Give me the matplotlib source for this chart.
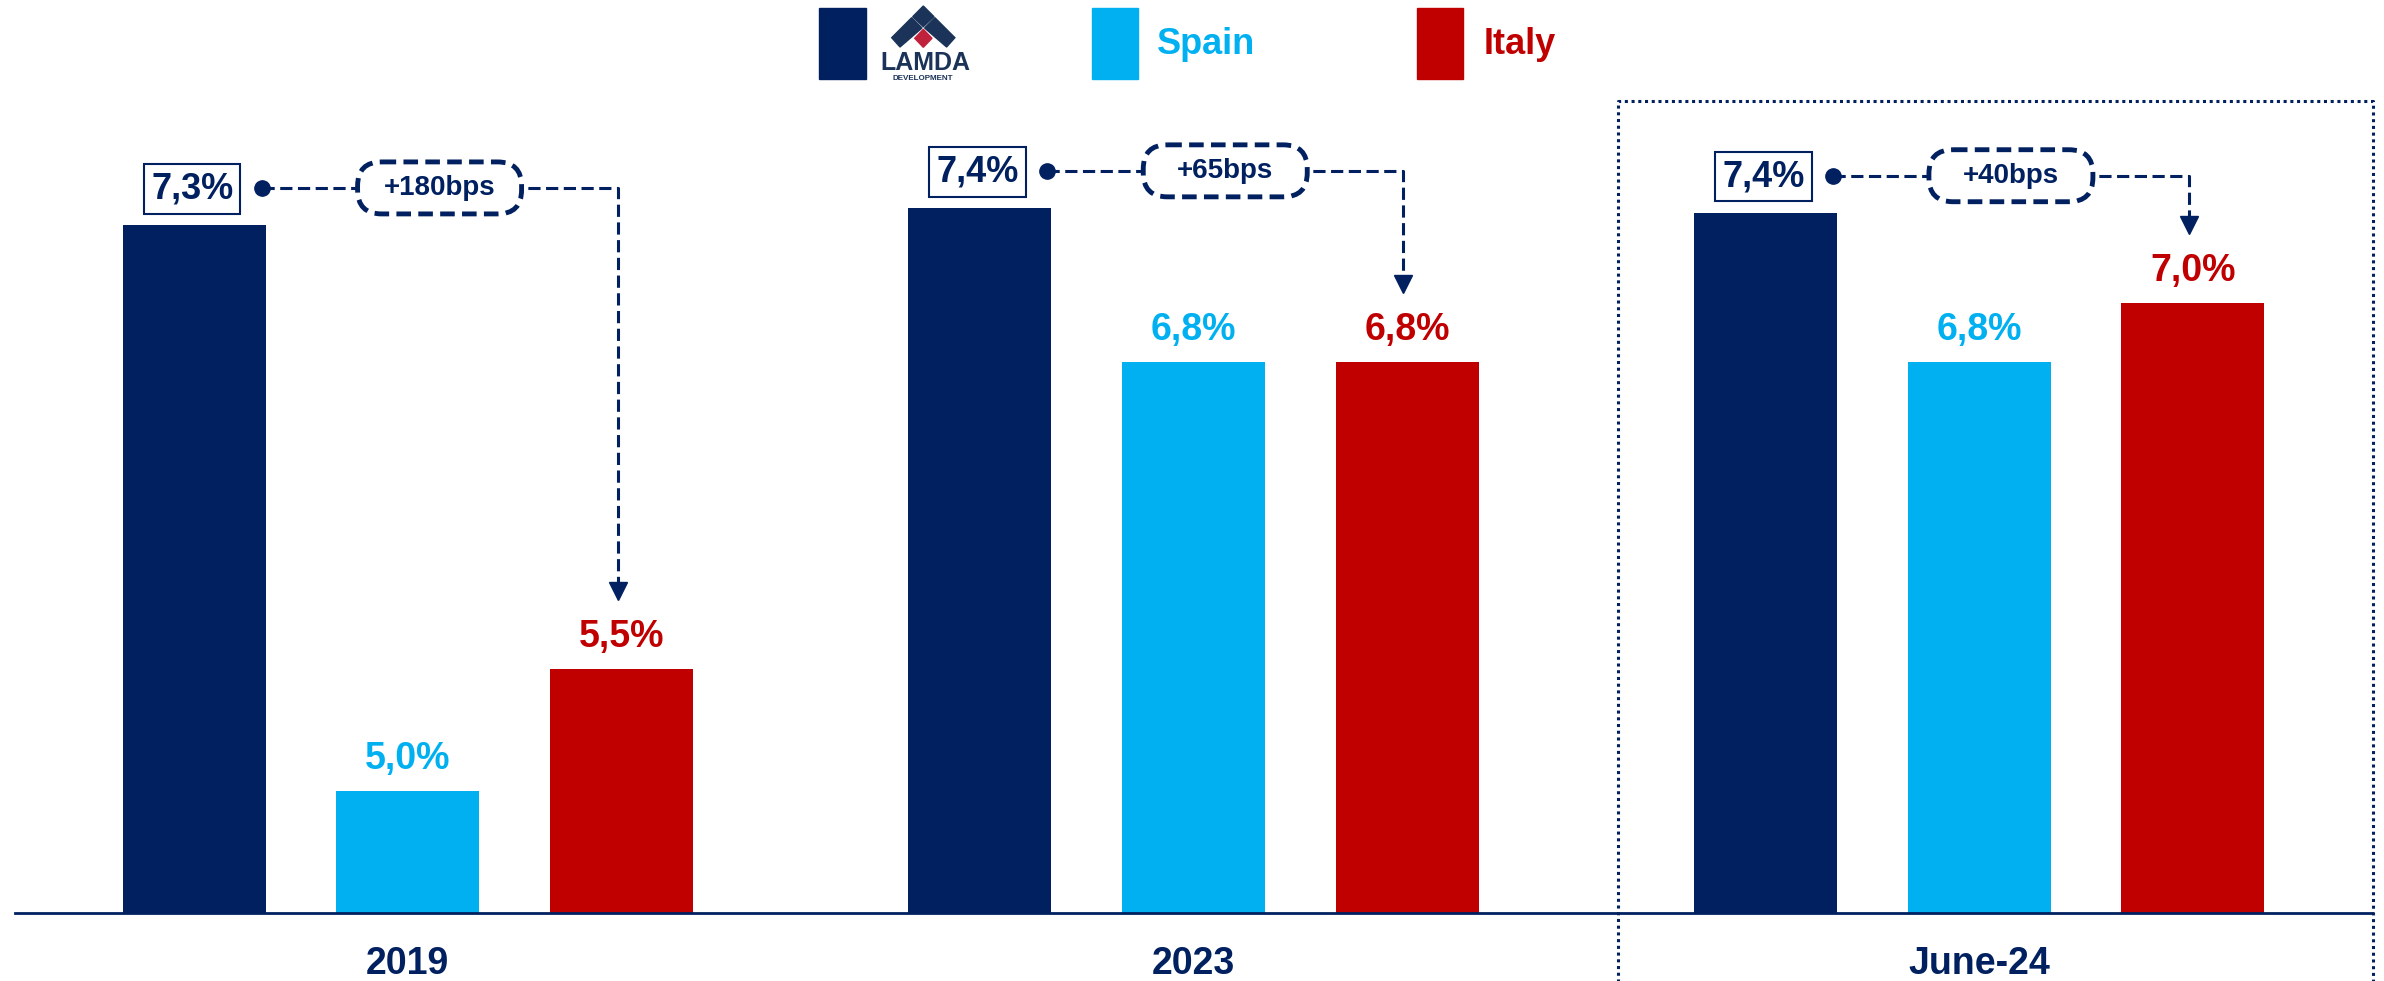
import numpy as np
import matplotlib
matplotlib.use('Agg')
import matplotlib.pyplot as plt
from matplotlib.patches import FancyBboxPatch, Polygon, Rectangle

plt.rcParams['font.family'] = ['Liberation Sans', 'DejaVu Sans']

# data
groups = ['2019', '2023', 'June-24']
lamda = [7.32, 7.39, 7.37]
spain = [5.00, 6.76, 6.76]
italy = [5.50, 6.76, 7.00]
spread = ['+180bps', '+65bps', '+40bps']

NAVY = '#002060'
BLUE = '#00B0F0'
RED = '#C00000'
LOGO_NAVY = '#1B3358'
LOGO_RED = '#C0223B'

W, H = 2384, 981
fig = plt.figure(figsize=(W / 100, H / 100), dpi=100)
ax = fig.add_axes([15 / W, 68 / H, (2372 - 15) / W, 913 / H])
ov = fig.add_axes([0, 0, 1, 1], zorder=5)
ov.set_xlim(0, W)
ov.set_ylim(H, 0)
ov.axis('off')

x = np.arange(len(groups))
bw = 0.182
off = 0.272

ax.bar(x - off, lamda, bw, color=NAVY)
ax.bar(x, spain, bw, color=BLUE)
ax.bar(x + off, italy, bw, color=RED)

ax.set_xlim(-0.5, 2.5)
ax.set_ylim(4.5, 4.5 + 913 / 244)
ax.set_yticks([])
ax.set_xticks(x)
ax.set_xticklabels(groups, fontsize=27, fontweight='bold', color=NAVY)
ax.tick_params(axis='x', length=0, pad=24)
for s in ['top', 'right', 'left']:
    ax.spines[s].set_visible(False)
ax.spines['bottom'].set_color(NAVY)
ax.spines['bottom'].set_linewidth(2)


def fmt(v):
    return f'{v:.1f}'.replace('.', ',') + '%'


# value labels
for xi, v in zip(x, spain):
    ax.annotate(fmt(v), (xi, v), xytext=(0, 32), textcoords='offset pixels',
                ha='center', va='center', fontsize=27, fontweight='bold', color=BLUE)
for xi, v in zip(x + off, italy):
    ax.annotate(fmt(v), (xi, v), xytext=(0, 32), textcoords='offset pixels',
                ha='center', va='center', fontsize=27, fontweight='bold', color=RED)
for xi, v in zip(x - off, lamda):
    ax.annotate(fmt(v), (xi, v), xytext=(-2, 36), textcoords='offset pixels',
                ha='center', va='center', fontsize=26, fontweight='bold', color=NAVY,
                bbox=dict(boxstyle='square,pad=0.2', fc='white', ec=NAVY, lw=1.5))


def to_px(xd, yd):
    px, py = ax.transData.transform((xd, yd))
    return px, H - py


# connectors with spread bubbles
for i in range(len(groups)):
    lx, ly = to_px(x[i] - off + bw / 2, lamda[i])
    ix, iy = to_px(x[i] + off, italy[i])
    dot_x, dot_y = lx - 4, ly - 37
    drop_x = ix - 4
    tip_y = iy - 70
    ov.plot([dot_x, drop_x, drop_x], [dot_y, dot_y, tip_y - 10],
            color=NAVY, lw=2.2, ls=(0, (4, 1.8)))
    ov.plot(dot_x, dot_y, 'o', color=NAVY, ms=11)
    ov.plot(drop_x, tip_y - 8, 'v', color=NAVY, ms=13)
    cx = (dot_x + drop_x) / 2
    bub = FancyBboxPatch((cx - 82, dot_y - 26), 164, 52,
                         boxstyle='round,pad=0,rounding_size=24',
                         fc='white', ec=NAVY, lw=3.5, ls=(0, (3, 1.5)), zorder=3)
    ov.add_patch(bub)
    ov.text(cx, dot_y, spread[i], ha='center', va='center', fontsize=20,
            fontweight='bold', color=NAVY, zorder=4)

# dotted frame around last period
ov.plot([1618, 1618, 2373, 2373], [H + 5, 101, 101, H + 5],
        color=NAVY, lw=2.2, ls=(0, (1, 1.2)), clip_on=False)

# legend
ov.add_patch(Rectangle((819, 8), 47, 71, color=NAVY))
ov.add_patch(Rectangle((1092, 8), 46, 71, color=BLUE))
ov.add_patch(Rectangle((1417, 8), 46, 71, color=RED))
ov.text(1157, 44, 'Spain', ha='left', va='center', fontsize=26,
        fontweight='bold', color=BLUE)
ov.text(1484, 44, 'Italy', ha='left', va='center', fontsize=26,
        fontweight='bold', color=RED)

# logo
ov.add_patch(Polygon([(923.3, 6), (934, 16.7), (923.3, 26.7), (912.7, 16.7)], color=LOGO_NAVY))
ov.add_patch(Polygon([(911.7, 17.7), (922, 28), (900, 47), (891.7, 37.7)], color=LOGO_NAVY))
ov.add_patch(Polygon([(934.9, 17.7), (954.9, 37.7), (946.6, 47), (924.6, 28)], color=LOGO_NAVY))
ov.add_patch(Polygon([(923.3, 29.3), (932, 38.3), (923.3, 47.3), (914.7, 38.3)], color=LOGO_RED))
ov.text(925, 63, 'LAMDA', ha='center', va='center', fontsize=18,
        fontweight='bold', color=LOGO_NAVY)
ov.text(923, 79, 'DEVELOPMENT', ha='center', va='center', fontsize=5.8,
        fontweight='bold', color=LOGO_NAVY)

fig.savefig('out.png', dpi=100)
